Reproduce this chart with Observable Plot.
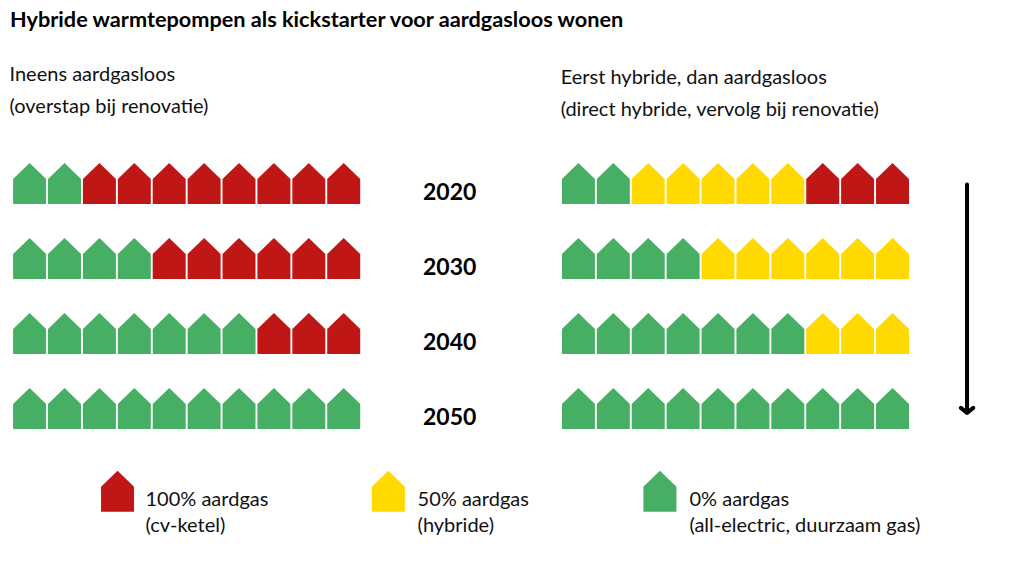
<!DOCTYPE html>
<html lang="nl">
<head>
<meta charset="utf-8">
<script src="https://cdn.jsdelivr.net/npm/d3@7"></script>
<script src="https://cdn.jsdelivr.net/npm/@observablehq/plot@0.6"></script>
<style>
  html, body { margin: 0; padding: 0; background: #fff; }
  #title { font: 700 21.7px Lato, sans-serif; color: #000; height: 40px; line-height: 38px; padding-left: 10px; white-space: nowrap; box-sizing: border-box; }
  svg { display: block; }
</style>
</head>
<body>
<div id="title">Hybride warmtepompen als kickstarter voor aardgasloos wonen</div>
<div id="chart"></div>
<script>
const years = ["2020", "2030", "2040", "2050"];
const kinds = ["100% aardgas", "50% aardgas", "0% aardgas"];
const kindColors = ["#BE1716", "#FFD900", "#47AF63"];

// Houses per year, out of ten, in order green / yellow / red
const leftGreen  = [2, 4, 7, 10];
const leftYellow = [0, 0, 0, 0];
const leftRed    = [8, 6, 3, 0];
const rightGreen  = [2, 4, 7, 10];
const rightYellow = [5, 6, 3, 0];
const rightRed    = [3, 0, 0, 0];

const panelLeftStart = 0;
const panelRightStart = 15.725;
const yearColumn = 12.035;
const arrowColumn = 26.86;
const arrowFromRow = 0.013;
const arrowToRow = 3.06;

const panelHeads = [
  {text: "Ineens aardgasloos", x: -0.576, y: -1.45},
  {text: "(overstap bij renovatie)", x: -0.576, y: -1.02},
  {text: "Eerst hybride, dan aardgasloos", x: 15.216, y: -1.41},
  {text: "(direct hybride, vervolg bij renovatie)", x: 15.216, y: -0.98}
];
const legendHouses = [
  {kind: kinds[0], x: 2.52, y: 4.103},
  {kind: kinds[1], x: 10.28, y: 4.103},
  {kind: kinds[2], x: 18.06, y: 4.103}
];
const legendLabels = [
  {text: "100% aardgas", x: 3.32, y: 4.21},
  {text: "(cv-ketel)", x: 3.32, y: 4.56},
  {text: "50% aardgas", x: 11.116, y: 4.21},
  {text: "(hybride)", x: 11.116, y: 4.56},
  {text: "0% aardgas", x: 18.906, y: 4.21},
  {text: "(all-electric, duurzaam gas)", x: 18.906, y: 4.56}
];

function rowHouses(start, green, yellow, red) {
  return years.flatMap((year, row) => {
    const sequence = [
      ...Array(green[row]).fill(kinds[2]),
      ...Array(yellow[row]).fill(kinds[1]),
      ...Array(red[row]).fill(kinds[0])
    ];
    return sequence.map((kind, col) => ({kind, x: start + col, y: row}));
  });
}
const houses = [
  ...rowHouses(panelLeftStart, leftGreen, leftYellow, leftRed),
  ...rowHouses(panelRightStart, rightGreen, rightYellow, rightRed)
];

// House outline as a Plot symbol
const houseSymbol = {
  draw(context, size) {
    const r = Math.sqrt(size / Math.PI);
    context.moveTo(0, -1.24 * r);
    context.lineTo(r, -0.27 * r);
    context.lineTo(r, 1.24 * r);
    context.lineTo(-r, 1.24 * r);
    context.lineTo(-r, -0.27 * r);
    context.closePath();
  }
};

const font = "Lato, sans-serif";
const chart = Plot.plot({
  width: 1011,
  height: 532,
  margin: 0,
  style: {background: "#fff", fontFamily: font},
  x: {domain: [-0.834, 28.134], range: [0, 1011], axis: null},
  y: {domain: [-1.907, 5.186], range: [0, 532], axis: null},
  color: {domain: kinds, range: kindColors},
  marks: [
    Plot.dot(houses, {x: "x", y: "y", fill: "kind", symbol: houseSymbol, r: 16.5}),
    Plot.dot(legendHouses, {x: "x", y: "y", fill: "kind", symbol: houseSymbol, r: 16.5}),
    Plot.text(years, {x: () => yearColumn, y: (d, i) => i + 0.12, text: d => d,
      fontSize: 23, fontWeight: 700, fill: "#000", fontFamily: font}),
    Plot.text(panelHeads, {x: "x", y: "y", text: "text", textAnchor: "start",
      fontSize: 20, fill: "#111", fontFamily: font}),
    Plot.text(legendLabels, {x: "x", y: "y", text: "text", textAnchor: "start",
      fontSize: 20, fill: "#111", fontFamily: font}),
    Plot.arrow([0], {x1: () => arrowColumn, x2: () => arrowColumn, y1: () => arrowFromRow, y2: () => arrowToRow,
      stroke: "#000", strokeWidth: 4, bend: 0, headAngle: 100, headLength: 3})
  ]
});
document.getElementById("chart").appendChild(chart);
</script>
</body>
</html>
